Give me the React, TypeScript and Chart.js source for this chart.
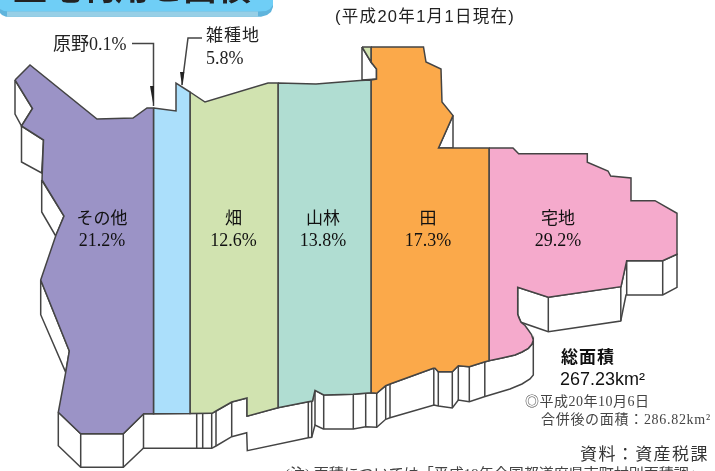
import React, { useEffect, useRef } from "react";
import { Chart, registerables } from "chart.js";

Chart.register(...registerables);

type Pt = [number, number];

// Map outlines, in the map's own units
const otherArea: Pt[] = [[15,80],[30,65],[97,119],[133,118],[147,108],[153.5,108],[153.5,413.7],[143.7,413.7],[123.3,433.7],[80.7,433.7],[58.3,412.3],[65.7,372.3],[69.3,351],[40.7,280],[56,235],[64,216],[42,180],[43.5,140],[21.5,126],[32.5,108.5],[15,80]];
const miscArea: Pt[] = [[153.5,108],[176,111],[176,83],[190,92],[190,413.5],[153.5,413.7],[153.5,108]];
const fieldArea: Pt[] = [[190,92],[205,102],[268,83],[278,83],[278,407.7],[248,416],[247,398],[231.7,402],[216,411],[212,413.3],[190,413.5],[190,92]];
const forestArea: Pt[] = [[278,83],[316,84],[360,80.5],[371,80],[371,392.7],[353,394.3],[323.7,395],[315,390.3],[312.5,401],[308.3,401.7],[278,407.7],[278,83]];
const paddyArea: Pt[] = [[371,47],[423.5,47],[426,62],[441,69],[442,102],[453,115.5],[438.5,148],[489,148],[489,360.7],[484.3,362],[469.3,366.7],[458.3,365.7],[452.3,371.7],[438.3,371.7],[435,368.3],[433.3,368.3],[390,384],[385.7,385.7],[376.7,393.3],[371,392.7],[371,80],[376.5,79],[376.5,69],[371,62],[371,47]];
const residentialArea: Pt[] = [[489,148],[513,148],[518.7,153.7],[587.3,153.7],[587.3,162.3],[608,171],[610.7,176],[631,178],[631,200.7],[655,200.7],[677,213.3],[677,254.3],[662.7,260.7],[626.7,260.7],[621,286.7],[548.3,297.3],[517.7,287.3],[517.7,314.3],[519,318],[521,322.3],[525,325.5],[528.3,330],[531.5,334.5],[533.3,340],[532,344],[528.3,348.3],[522,352],[515,355],[502,358],[489,360.7],[489,148]];
const sliverArea: Pt[] = [[362,47],[371,47],[371,62],[362,47]];

const wallNorth: Pt[] = [[362,47],[371,62],[376.5,69],[376.5,79],[362,80],[362,47]];
const wallWest1: Pt[] = [[15,80],[15,114],[21.5,126],[32.5,108.5],[15,80]];
const wallWest2: Pt[] = [[21.5,126],[21.5,162],[41.7,173],[43.5,140],[21.5,126]];
const wallWest3: Pt[] = [[41.7,180],[41.7,212],[55.7,236],[64,216],[41.7,180]];
const wallWest4: Pt[] = [[40.7,280],[40.7,314.7],[65.7,372.3],[69.3,351],[40.7,280]];
const wallEastNotch: Pt[] = [[453,115.5],[453,148],[438.5,148],[453,115.5]];
const wallEast: Pt[] = [[517.7,287.3],[548.3,297.3],[621,286.7],[626.7,260.7],[662.7,260.7],[677,254.3],[677,287.3],[662.7,295],[626,295],[620.7,321],[548.3,331.7],[521,322.3],[517.7,314.3],[517.7,287.3]];
const wallSouth: Pt[] = [[58.3,412.3],[80.7,433.7],[123.3,433.7],[143.7,413.7],[212,413.3],[216,411],[231.7,402],[247,398],[247,416],[278,407.7],[308.3,401.7],[312.5,401],[315,390.3],[323.7,395],[353,394.3],[371,392.7],[376.7,393.3],[385.7,385.7],[390,384],[433.3,368.3],[435,368.3],[438.3,371.7],[452.3,371.7],[458.3,365.7],[469.3,366.7],[484.3,362],[489,360.7],[502,358],[515,355],[522,352],[528.3,348.3],[532,344],[533.3,340],[533.3,375],[530,379],[522,384],[510,389],[485,396.5],[469.3,401.7],[458.3,400],[452.3,408],[438.3,406],[434,405],[390,417.7],[385.7,419.3],[376.7,427.3],[365.7,426.7],[353.3,429],[323.3,429],[315,425],[311.7,437.3],[308.3,437.7],[247.3,450.7],[246.7,432.7],[231.7,436.7],[216,446],[211.7,448.3],[143.3,448.3],[123.3,467.3],[80.7,467.3],[58.3,445.7],[58.3,412.3]];

// Vertical edges of the extruded walls: x, top, bottom
const wallEdges: [number, number, number][] = [[80.7,433.7,467.3],[123.3,433.7,467.3],[143.5,413.7,448.3],[196.7,413.4,448.3],[202.7,413.4,448.3],[211.7,413.3,448.3],[216,411,446],[231.7,402,436.7],[308.3,401.7,437.7],[311.7,401,437.3],[315,390.3,425],[323.7,395,429],[353.3,394.3,429],[365.7,393,426.7],[376.7,393.3,427.3],[385.7,385.7,419.3],[390,384,417.7],[433.8,368.3,405],[438.3,371.7,406],[452.3,371.7,408],[458.3,365.7,400],[469.3,366.7,401.7],[484.8,362,396],[548.3,297.3,331.7],[620.8,286.7,321],[626.7,260.7,295],[662.7,260.7,295]];

const leaderMeadow: Pt[] = [[132,43.5],[153.5,43.5],[153.5,106]];
const leaderMisc: Pt[] = [[202,38],[188,38],[182,85]];
const arrowMeadow: Pt[] = [[150,86],[154,86],[153.5,106],[150,86]];
const arrowMisc: Pt[] = [[180,72],[184.3,72],[182,86],[180,72]];

const bannerBody: Pt[] = [[0,0],[273,0],[273,7],[271,12],[267,15],[261,16.7],[6,16.7],[2,15],[0,13],[0,0]];
const bannerFace: Pt[] = [[0,0],[273,0],[273,5],[270,9],[266,11],[258,11.5],[10,11.5],[4,11],[0,9],[0,0]];
const bannerStrip: Pt[] = [[7,11.5],[258,11.5],[258,16.7],[7,16.7],[7,11.5]];

// Text
const regionNames = ["その他", "畑", "山林", "田", "宅地"];
const regionShares = ["21.2%", "12.6%", "13.8%", "17.3%", "29.2%"];
const calloutMeadow = "原野0.1%";
const calloutMiscName = "雑種地";
const calloutMiscShare = "5.8%";
const titleText = "土地利用と面積";
const dateText = "(平成20年1月1日現在)";
const totalLabel = "総面積";
const totalValue = "267.23km²";
const mergeDate = "◎平成20年10月6日";
const mergeArea = "合併後の面積：286.82km²";
const sourceText = "資料：資産税課";
const noteText = "(注) 面積については「平成19年全国都道府県市町村別面積調」";

const regionCenters = [102, 233.5, 323, 428, 558];

const SERIF = '"Liberation Serif", "Noto Sans CJK JP", serif';
const SANS = '"Liberation Sans", "Noto Sans CJK JP", sans-serif';
const INK = "#444444";

const toXY = (pts: Pt[]) => pts.map(([x, y]) => ({ x, y }));

const shape = (pts: Pt[], fillColor: string | null, border = true) => ({
  data: toXY(pts),
  showLine: true,
  pointRadius: 0,
  tension: 0,
  fill: fillColor ? ("shape" as const) : false,
  backgroundColor: fillColor ?? "transparent",
  borderColor: border ? INK : "transparent",
  borderWidth: border ? 1.5 : 0,
});

type Txt = { t: string; x: number; y: number; font: string; color?: string; align?: CanvasTextAlign; spacing?: number };

const textItems = (): Txt[] => {
  const items: Txt[] = [
    { t: titleText, x: 13, y: -9, font: `bold 34px ${SANS}`, color: "#222222" },
    { t: dateText, x: 335, y: 17, font: `16.5px ${SANS}`, color: "#222222", spacing: 1.3 },
    { t: calloutMeadow, x: 53, y: 45, font: `18px ${SERIF}`, color: "#222222" },
    { t: calloutMiscName, x: 206, y: 37, font: `17px ${SERIF}`, color: "#222222", spacing: 1 },
    { t: calloutMiscShare, x: 206, y: 59, font: `18px ${SERIF}`, color: "#222222" },
    { t: totalLabel, x: 561, y: 358, font: `bold 17px ${SANS}`, color: "#111111", spacing: 1 },
    { t: totalValue, x: 560, y: 380, font: `18px ${SANS}`, color: "#111111" },
    { t: mergeDate, x: 525, y: 402, font: `14px ${SERIF}`, color: "#444444", spacing: 0.5 },
    { t: mergeArea, x: 541, y: 420, font: `14px ${SERIF}`, color: "#444444", spacing: 0.7 },
    { t: sourceText, x: 580, y: 456, font: `17px ${SERIF}`, color: "#333333", spacing: 1.4 },
    { t: noteText, x: 285, y: 475, font: `15px ${SERIF}`, color: "#444444" },
  ];
  regionNames.forEach((t, i) => {
    const x = regionCenters[i];
    items.push({ t, x, y: 220, font: `17px ${SERIF}`, color: "#111111", align: "center" });
    items.push({ t: regionShares[i], x, y: 241, font: `18px ${SERIF}`, color: "#111111", align: "center" });
  });
  return items;
};

const textPlugin = {
  id: "mapText",
  afterDatasetsDraw(chart: Chart) {
    const { ctx, scales } = chart;
    ctx.save();
    ctx.textBaseline = "middle";
    for (const it of textItems()) {
      ctx.font = it.font;
      ctx.fillStyle = it.color ?? "#111111";
      ctx.textAlign = it.align ?? "left";
      (ctx as any).letterSpacing = `${it.spacing ?? 0}px`;
      ctx.fillText(it.t, scales.x.getPixelForValue(it.x), scales.y.getPixelForValue(it.y));
    }
    ctx.restore();
  },
};

export default function App() {
  const ref = useRef<HTMLCanvasElement>(null);
  useEffect(() => {
    document.body.style.margin = "0";
    const edgeSets = wallEdges.map(([x, top, bottom]) => shape([[x, top], [x, bottom]], null));
    const chart = new Chart(ref.current as HTMLCanvasElement, {
      type: "scatter",
      data: {
        datasets: [
          shape(arrowMeadow, "#222222", false),
          shape(arrowMisc, "#222222", false),
          shape(leaderMeadow, null),
          shape(leaderMisc, null),
          shape(sliverArea, "#D1E3B0"),
          shape(otherArea, "#9B93C6"),
          shape(miscArea, "#ABDFFB"),
          shape(fieldArea, "#D1E3B0"),
          shape(forestArea, "#B0DDD2"),
          shape(paddyArea, "#FBA94A"),
          shape(residentialArea, "#F5AACC"),
          ...edgeSets,
          shape(wallEast, "#FFFFFF"),
          shape(wallSouth, "#FFFFFF"),
          shape(wallNorth, "#FFFFFF"),
          shape(wallEastNotch, "#FFFFFF"),
          shape(wallWest1, "#FFFFFF"),
          shape(wallWest2, "#FFFFFF"),
          shape(wallWest3, "#FFFFFF"),
          shape(wallWest4, "#FFFFFF"),
          shape(bannerStrip, "#97CFE6", false),
          shape(bannerFace, "#6FCEF6", false),
          shape(bannerBody, "#5FB4DC", false),
        ] as any,
      },
      options: {
        animation: false,
        responsive: false,
        layout: { padding: 0 },
        scales: {
          x: { type: "linear", min: 0, max: 715, display: false },
          y: { type: "linear", min: 0, max: 471, reverse: true, display: false },
        },
        plugins: { legend: { display: false }, tooltip: { enabled: false }, title: { display: false } },
      },
      plugins: [textPlugin as any],
    });
    return () => chart.destroy();
  }, []);
  return <canvas ref={ref} width={715} height={471} style={{ display: "block" }} />;
}
